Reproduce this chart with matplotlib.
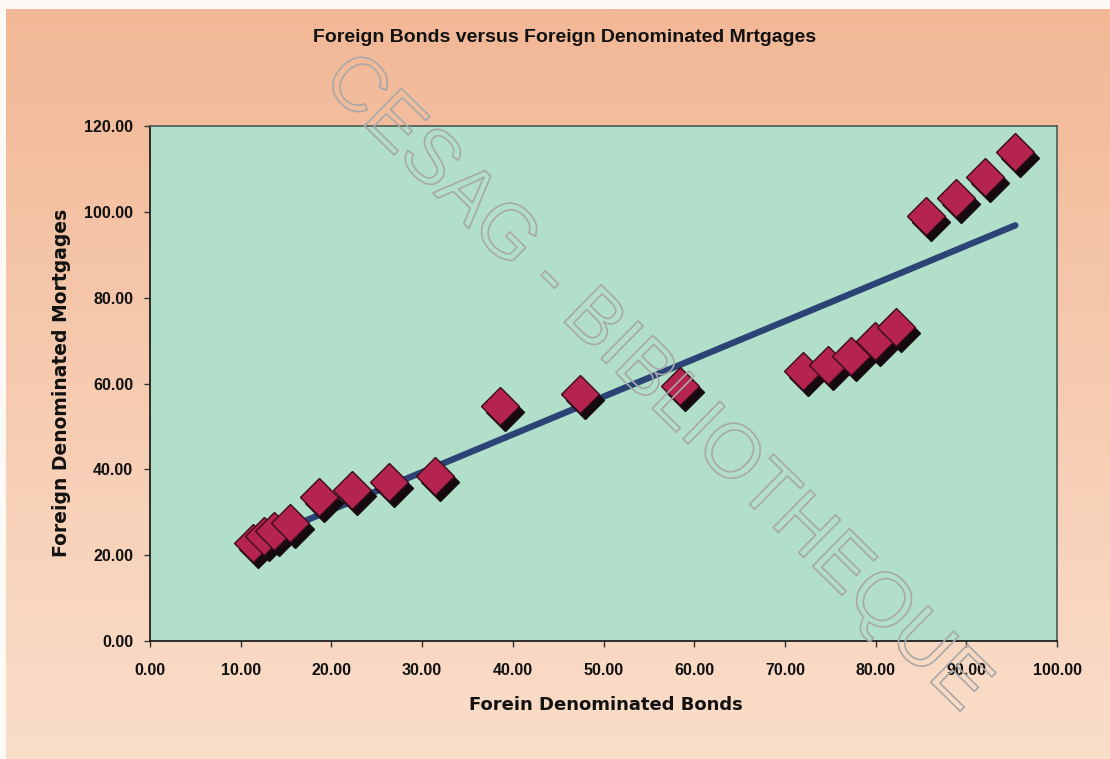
import numpy as np
import matplotlib
matplotlib.use("Agg")
import matplotlib.pyplot as plt
import matplotlib.transforms as mtransforms
import matplotlib.patheffects as pe

# Foreign bond holdings vs foreign-denominated mortgages
bonds = [11.4, 12.6, 13.7, 15.4, 18.6, 22.3, 26.3, 31.4, 38.6, 47.4,
         58.4, 72.0, 74.8, 77.3, 79.9, 82.3, 85.6, 88.9, 92.1, 95.4]
mortgages = [22.9, 24.4, 25.6, 27.5, 33.6, 35.1, 37.0, 38.5, 54.8, 57.5,
             59.4, 63.0, 64.4, 66.5, 70.0, 73.2, 99.0, 103.3, 108.0, 113.9]

x_ticks = [0, 10, 20, 30, 40, 50, 60, 70, 80, 90, 100]
y_ticks = [0, 20, 40, 60, 80, 100, 120]

title = "Foreign Bonds versus Foreign Denominated Mrtgages"
x_label = "Forein Denominated Bonds"
y_label = "Foreign Denominated Mortgages"

W, H, DPI = 1110, 759, 100
fig = plt.figure(figsize=(W / DPI, H / DPI), dpi=DPI)
fig.patch.set_facecolor("#fdfaf6")

# peach background panel with a soft vertical gradient
bg = fig.add_axes([6 / W, 0, 1 - 6 / W, (H - 9) / H], zorder=0)
top = np.array([242, 184, 150]) / 255
bottom = np.array([250, 222, 202]) / 255
t = np.linspace(0, 1, 256)[:, None]
grad = top[None, :] * (1 - t) + bottom[None, :] * t
bg.imshow(grad[:, None, :], aspect="auto", extent=[0, 1, 0, 1])
bg.set_axis_off()

ax = fig.add_axes([150 / W, (H - 641) / H, (1057 - 150) / W, (641 - 126) / H], zorder=1)
ax.set_facecolor("#b2dfca")
ax.set_xlim(0, 100)
ax.set_ylim(0, 120)

# trend line (least squares) over the data range
xs = np.array(bonds)
ys = np.array(mortgages)
slope, intercept = np.polyfit(xs, ys, 1)
xl = np.array([xs.min(), xs.max()])
ax.plot(xl, slope * xl + intercept, color="#2b4475", lw=4.6,
        solid_capstyle="round", zorder=3)

# diamond markers with a dark drop shadow
ms = 19
shadow = mtransforms.offset_copy(ax.transData, fig=fig, x=5, y=-6, units="dots")
ax.plot(xs, ys, linestyle="none", marker="D", markersize=ms, color="#140a10",
        markeredgecolor="#140a10", transform=shadow, zorder=4)
ax.plot(xs, ys, linestyle="none", marker="D", markersize=ms,
        markerfacecolor="#b5234f", markeredgecolor="#3a0c1c",
        markeredgewidth=1.0, zorder=5)

ax.set_xticks(x_ticks)
ax.set_yticks(y_ticks)
ax.set_xticklabels([f"{v:.2f}" for v in x_ticks])
ax.set_yticklabels([f"{v:.2f}" for v in y_ticks])
ax.tick_params(direction="out", length=4, width=1, color="#333333",
               labelsize=11.5, pad=8)
ax.tick_params(axis="x", pad=12)
for lab in ax.get_xticklabels() + ax.get_yticklabels():
    lab.set_fontfamily("Liberation Sans")
    lab.set_fontweight("bold")
    lab.set_color("#111111")

for side, sp in ax.spines.items():
    sp.set_color("#4a5a55")
    sp.set_linewidth(1.2)
ax.spines["bottom"].set_color("#111111")
ax.spines["left"].set_color("#111111")

fig.text(565 / W, 1 - 38 / H, title, ha="center", va="center",
         fontsize=14, fontweight="bold", family="Liberation Sans", color="#111111")
fig.text(606 / W, 1 - 705 / H, x_label, ha="center", va="center",
         fontsize=13, fontweight="bold", family="DejaVu Sans", color="#111111")
fig.text(62 / W, 1 - 383 / H, y_label, ha="center", va="center", rotation=90,
         fontsize=13.5, fontweight="bold", family="DejaVu Sans", color="#111111")

# library stamp across the chart
fig.text(655 / W, 1 - 384 / H, "CESAG - BIBLIOTHEQUE", ha="center", va="center",
         rotation=-44.5, fontsize=55, family="Liberation Sans", color="none",
         zorder=10,
         path_effects=[pe.withStroke(linewidth=1.2, foreground="#a8a8a8")])

fig.savefig("out.png", dpi=DPI)
